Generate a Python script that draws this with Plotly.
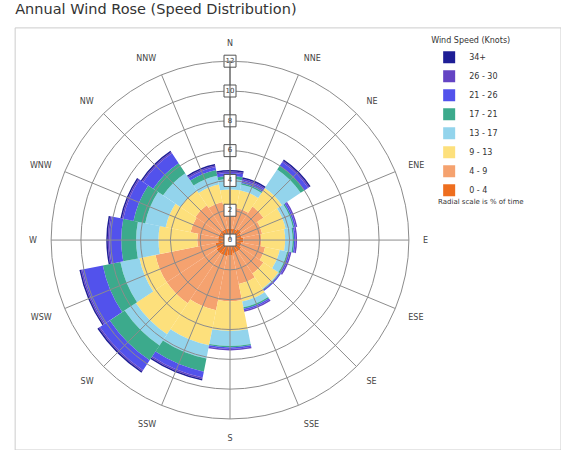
import plotly.graph_objects as go

directions = ["N", "NNE", "NE", "ENE", "E", "ESE", "SE", "SSE",
              "S", "SSW", "SW", "WSW", "W", "WNW", "NW", "NNW"]

speed_bins = ["0 - 4", "4 - 9", "9 - 13", "13 - 17", "17 - 21", "21 - 26", "26 - 30", "34+"]

s0_4 = [0.8, 0.8, 0.9, 0.8, 0.9, 0.8, 0.9, 0.9, 1.0, 1.1, 1.1, 1.0, 0.8, 0.8, 0.8, 0.8]
s4_9 = [1.6, 1.4, 1.8, 1.4, 1.2, 1.6, 1.8, 2.1, 3.1, 3.7, 4.0, 4.1, 1.4, 1.9, 2.0, 1.8]
s9_13 = [1.0, 1.2, 1.5, 1.6, 1.6, 1.0, 1.2, 1.2, 2.0, 2.4, 2.5, 1.1, 2.6, 1.7, 1.2, 1.2]
s13_17 = [0.7, 0.4, 1.5, 0.5, 0.5, 0.5, 0.1, 0.4, 1.0, 0.9, 0.9, 1.3, 1.5, 1.4, 1.4, 0.6]
s17_21 = [0.2, 0.1, 0.3, 0.1, 0.1, 0.1, 0.0, 0.1, 0.1, 0.9, 1.2, 1.2, 1.0, 0.8, 0.8, 0.4]
s21_26 = [0.2, 0.2, 0.3, 0.1, 0.1, 0.1, 0.1, 0.1, 0.1, 0.4, 0.8, 1.4, 0.8, 0.7, 0.8, 0.2]
s26_30 = [0.1, 0.1, 0.1, 0.1, 0.1, 0.1, 0.0, 0.1, 0.1, 0.1, 0.1, 0.1, 0.1, 0.1, 0.1, 0.1]
s34 = [0.1, 0.1, 0.1, 0.0, 0.0, 0.0, 0.0, 0.0, 0.0, 0.1, 0.1, 0.1, 0.1, 0.1, 0.1, 0.1]

series = [s0_4, s4_9, s9_13, s13_17, s17_21, s21_26, s26_30, s34]
colors = ["#EE6E1F", "#F5A26F", "#FDE07C", "#93D4EC", "#3CAA8C", "#5252EC", "#6444C4", "#1E1E96"]

radial_ticks = [0, 2, 4, 6, 8, 10, 12]

FONT = "DejaVu Sans, Liberation Sans, Arial, sans-serif"

fig = go.Figure()
for name, vals, col in zip(speed_bins, series, colors):
    fig.add_trace(go.Barpolar(
        r=vals, theta=directions, name=name, subplot="polar",
        marker=dict(color=col, line=dict(width=0)),
    ))

# boxed radial scale labels along the north spoke (on the overlay subplot so the grid sits above the bars)
fig.add_trace(go.Scatterpolar(
    r=radial_ticks, theta=["N"] * len(radial_ticks), subplot="polar2",
    mode="markers+text", text=[str(v) for v in radial_ticks],
    textposition="middle center",
    textfont=dict(size=7, color="#333333", family=FONT),
    marker=dict(symbol="square", size=12, color="white", line=dict(color="#555555", width=1)),
    showlegend=False, hoverinfo="skip",
))

domain = dict(x=[0.091, 0.729], y=[0.069, 0.864])

fig.update_layout(
    width=561, height=450,
    margin=dict(l=0, r=0, t=0, b=0),
    paper_bgcolor="white",
    font=dict(family=FONT, size=8, color="#444444"),
    title=dict(text="Annual Wind Rose (Speed Distribution)", x=0.027, xanchor="left",
               y=0.98, yanchor="middle",
               font=dict(size=14.5, color="#333333")),
    polar=dict(
        domain=domain,
        bgcolor="white",
        bargap=0,
        barmode="stack",
        angularaxis=dict(
            direction="clockwise", rotation=90, type="category",
            categoryarray=directions,
            showgrid=False, showline=False, showticklabels=False, ticks="",
        ),
        radialaxis=dict(
            range=[0, 12], tickvals=radial_ticks, showticklabels=False,
            showgrid=False, showline=False, ticks="",
        ),
    ),
    polar2=dict(
        domain=domain,
        bgcolor="rgba(0,0,0,0)",
        angularaxis=dict(
            direction="clockwise", rotation=90, type="category",
            categoryarray=directions,
            showgrid=True, gridcolor="#8c8c8c", gridwidth=1,
            showline=True, linecolor="#8c8c8c", linewidth=1,
            ticks="outside", ticklen=12, tickcolor="rgba(0,0,0,0)",
            tickfont=dict(size=8, color="#444444"),
        ),
        radialaxis=dict(
            range=[0, 12], tickvals=radial_ticks, showticklabels=False,
            angle=90,
            showgrid=True, gridcolor="#8c8c8c", gridwidth=1,
            showline=True, linecolor="#555555", linewidth=1, ticks="",
        ),
    ),
    legend=dict(
        x=0.765, y=0.928, xanchor="left", yanchor="top",
        traceorder="reversed",
        title=dict(text="Wind Speed (Knots)", font=dict(size=8, color="#333333")),
        font=dict(size=8, color="#333333"),
        bgcolor="rgba(0,0,0,0)",
        itemwidth=30,
    ),
    annotations=[dict(
        text="Radial scale is % of time", xref="paper", yref="paper",
        x=0.778, y=0.551, xanchor="left", yanchor="middle", showarrow=False,
        font=dict(size=7, color="#333333"),
    )],
    shapes=[dict(
        type="rect", xref="paper", yref="paper",
        x0=0.027, x1=1.0, y0=0.0, y1=0.938,
        line=dict(color="#cccccc", width=1), fillcolor="rgba(0,0,0,0)", layer="below",
    )],
)

fig.write_html("out.html", config={"displayModeBar": False},
               post_script="document.body.style.margin='0';document.body.style.overflow='hidden';")
